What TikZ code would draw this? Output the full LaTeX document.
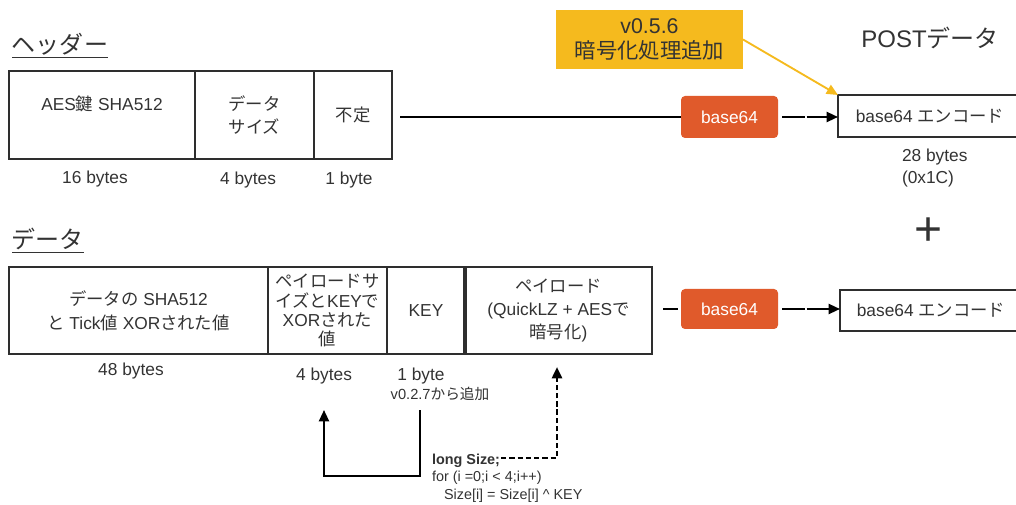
\documentclass[tikz,border=0pt]{standalone}
\usepackage{fontspec}
\setmainfont{Liberation Sans}
\newfontfamily\jp{Noto Sans CJK JP}
\usetikzlibrary{arrows.meta}
\definecolor{ink}{HTML}{333333}
\definecolor{rim}{HTML}{2E2E2E}
\definecolor{chip}{HTML}{E05A2B}
\definecolor{memo}{HTML}{F5BA1E}
\begin{document}
\begin{tikzpicture}[x=0.75pt,y=-0.75pt,
  every node/.style={text=ink, inner sep=0pt, outer sep=0pt},
  txt/.style={font=\fontsize{13pt}{17pt}\selectfont, align=center},
  small/.style={font=\fontsize{11pt}{13pt}\selectfont, align=left},
  title/.style={font=\jp\fontsize{18pt}{22pt}\selectfont},
  cell/.style={draw=rim, line width=1.5pt, txt},
  hcell/.style={cell, minimum height=66pt},
  dcell/.style={cell, minimum height=65.25pt},
  chipbox/.style={fill=chip, rounded corners=3pt, minimum width=72.75pt, txt, text=white},
  outbox/.style={draw=rim, line width=1.5pt, txt},
  tip/.style={-{Triangle[length=8.5pt,width=7.5pt]}},
  conn/.style={draw=black, line width=1.6pt},
  gapped/.style={dash pattern=on 17pt off 1.5pt on 80pt off 0pt},
  pointer/.style={draw=memo, line width=1.4pt, -{Triangle[length=8.5pt,width=7.5pt]}},
  underl/.style={draw=ink, line width=0.8pt}
]
\useasboundingbox (0,0) rectangle (1016,505);
\clip (0,0) rectangle (1016,505);

% ---- header block ----
\node[title, anchor=base west] (hdrT) at (12,54) {ヘッダー};
\draw[underl] ([yshift=-2.5pt]hdrT.base west) -- ([yshift=-2.5pt]hdrT.base east);

\node[hcell, minimum width=139.5pt] (h1) at (102,115) {AES{\jp 鍵} SHA512\\\mbox{}};
\node[hcell, minimum width=89.25pt] (h2) at (254.5,115) {{\jp データ}\\{\jp サイズ}};
\node[hcell, minimum width=58.5pt] (h3) at (353,115) {{\jp 不定}};

\node[txt] (h1n) at (95,179) {16 bytes};
\node[txt] (h2n) at (248,180) {4 bytes};
\node[txt] (h3n) at (349,180) {1 byte};

% ---- data block ----
\node[title, anchor=base west] (datT) at (12,249) {データ};
\draw[underl] ([yshift=-2.5pt]datT.base west) -- ([yshift=-2.5pt]datT.base east);

\node[dcell, minimum width=194.25pt, font=\fontsize{13pt}{18pt}\selectfont] (d1) at (138.5,310.5)
  {{\jp データの} SHA512\\{\jp と} Tick{\jp 値} XOR{\jp された値}};
\node[dcell, minimum width=89.25pt, font=\fontsize{13pt}{14.3pt}\selectfont] (d2) at (327.5,310.5)
  {{\jp ペイロードサ}\\{\jp イズと}KEY{\jp で}\\XOR{\jp された}\\{\jp 値}};
\node[dcell, minimum width=58.5pt] (d3) at (426,310.5) {KEY};
\node[dcell, minimum width=140.25pt] (d4) at (558.5,310.5)
  {{\jp ペイロード}\\(QuickLZ + AES{\jp で}\\{\jp 暗号化})};
\draw[rim, line width=2.6pt] (d4.north west) -- (d4.south west);

\node[txt] (d1n) at (131,371) {48 bytes};
\node[txt] (d2n) at (324,376) {4 bytes};
\node[txt] (d3n) at (421,376) {1 byte};
\node[small, align=center] (d3v) at (440,394) {v0.2.7{\jp から追加}};

% ---- size / key note ----
\node[small, anchor=west, font=\fontsize{10.8pt}{13pt}\selectfont] (code) at (432,478)
  {\textbf{long Size;}\\for (i =0;i {\textless} 4;i++)\\\hspace*{9pt}Size[i] = Size[i] \textasciicircum{} KEY};
\coordinate (keyOut) at (420,410);
\coordinate (sizeIn) at (324,410);
\draw[conn, tip] (keyOut) -- ++(0,66) -| (sizeIn);
\coordinate (codeOut) at (501,458);
\coordinate (payIn) at (557,367);
\draw[conn, line width=1.9pt, dash pattern=on 4pt off 2.2pt, tip] (codeOut) -| (payIn);

% ---- encoding path ----
\node[chipbox, minimum height=31.5pt] (b1) at (729.5,117) {base64};
\node[chipbox, minimum height=30pt] (b2) at (729.5,309) {base64};

\node[outbox, minimum width=138pt, minimum height=31.5pt] (e1) at (930,116) {base64 {\jp エンコード}};
\node[outbox, minimum width=136.5pt, minimum height=30.75pt] (e2) at (931,310.5) {base64 {\jp エンコード}};

\draw[conn, shorten <=6pt] (h3.east |- b1.west) -- (b1.west);
\draw[conn, gapped, shorten <=3pt, tip] (b1.east) -- (b1.east -| e1.west);
\draw[conn, shorten <=8.25pt, shorten >=2.25pt] (d4.east |- b2.west) -- (b2.west);
\draw[conn, gapped, shorten <=3pt, tip] (b2.east) -- (b2.east -| e2.west);

\node[txt, anchor=west, align=left, font=\fontsize{13pt}{16.5pt}\selectfont] (e1n) at (902,168) {28 bytes\\(0x1C)};

% ---- right column titles ----
\node[font=\fontsize{18pt}{22pt}\selectfont] (post) at (930,38) {POST{\jp データ}};
\node[font=\fontsize{36pt}{36pt}\selectfont] (plus) at (929,232) {+};

% ---- version note ----
\node[fill=memo, minimum width=140.25pt, minimum height=44.25pt, align=center,
      font=\fontsize{16pt}{18.75pt}\selectfont] (note) at (649.5,39.5)
  {v0.5.6\\{\jp 暗号化処理追加}};
\draw[pointer] (note.east) -- (e1.north west);
\end{tikzpicture}
\end{document}
